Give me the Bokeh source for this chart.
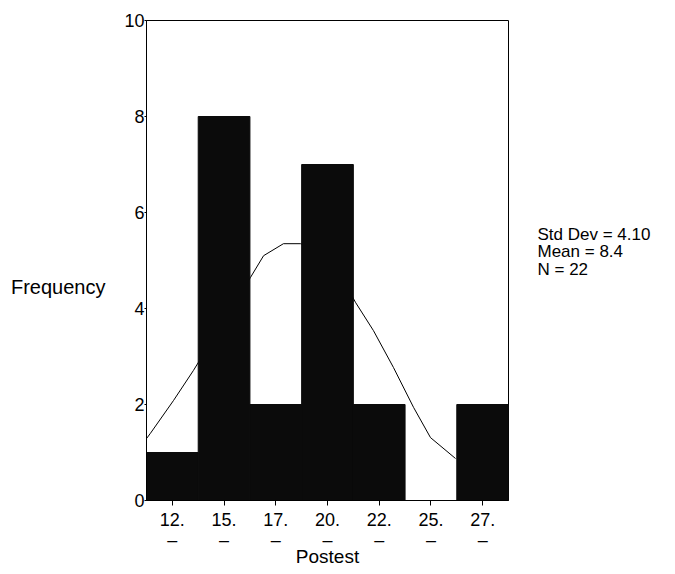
from bokeh.plotting import figure
from bokeh.models import Range1d, FixedTicker, LinearAxis
from bokeh.embed import file_html
from bokeh.resources import INLINE

# ---- data ----
bin_mid = [12.5, 15.0, 17.5, 20.0, 22.5, 25.0, 27.5]
frequency = [1, 8, 2, 7, 2, 0, 2]
bin_width = 2.5
tick_labels = ["12.", "15.", "17.", "20.", "22.", "25.", "27."]
y_ticks = [0, 2, 4, 6, 8, 10]

# normal curve
curve_x = [11.25, 11.44, 12.55, 13.52, 16.28, 16.91, 17.87, 18.69, 19.6, 20.5,
           21.35, 22.22, 23.19, 24.16, 24.98, 26.19]
curve_y = [1.29, 1.40, 2.08, 2.71, 4.65, 5.10, 5.35, 5.35, 5.25, 4.8,
           4.13, 3.54, 2.77, 1.94, 1.31, 0.875]

std_dev = "4.10"
mean = "8.4"
n = "22"

FONT = "Liberation Sans"

p = figure(width=675, height=574, output_backend="svg", toolbar_location=None,
           x_range=Range1d(11.25, 28.75), y_range=Range1d(0, 10),
           min_border_left=146, min_border_right=167, min_border_top=20,
           min_border_bottom=74)
p.background_fill_color = "white"
p.border_fill_color = "white"
p.outline_line_color = "black"
p.outline_line_width = 1
p.xgrid.visible = False
p.ygrid.visible = False

p.line(curve_x, curve_y, line_color="black", line_width=1)
p.vbar(x=bin_mid, top=frequency, width=bin_width, bottom=0,
       fill_color="#0b0b0b", line_color="#0b0b0b")

# x axis
p.xaxis.ticker = FixedTicker(ticks=bin_mid)
p.xaxis.major_label_overrides = {m: lab + "\n\u2013" for m, lab in zip(bin_mid, tick_labels)}
p.xaxis.major_label_text_font = FONT
p.xaxis.major_label_text_font_size = "18px"
p.xaxis.major_label_text_line_height = 1.0
p.xaxis.major_label_text_color = "black"
p.xaxis.major_tick_out = 5
p.xaxis.major_tick_in = 0
p.xaxis.minor_tick_out = 0
p.xaxis.minor_tick_in = 0
p.xaxis.major_label_standoff = 4
p.xaxis.axis_line_color = "black"
p.xaxis.major_tick_line_color = "black"
p.xaxis.axis_label = "Postest"
p.xaxis.axis_label_text_font = FONT
p.xaxis.axis_label_text_font_size = "19px"
p.xaxis.axis_label_text_font_style = "normal"
p.xaxis.axis_label_text_color = "black"
p.xaxis.axis_label_standoff = -7

# y axis
p.yaxis.ticker = FixedTicker(ticks=y_ticks)
p.yaxis.major_label_text_font = FONT
p.yaxis.major_label_text_font_size = "18px"
p.yaxis.major_label_text_color = "black"
p.yaxis.major_tick_out = 2
p.yaxis.major_tick_in = 0
p.yaxis.minor_tick_out = 0
p.yaxis.minor_tick_in = 0
p.yaxis.major_label_standoff = 0
p.yaxis.axis_line_color = "black"
p.yaxis.axis_label = "\u00a0\n\u00a0\nFrequency"
p.yaxis.axis_label_orientation = "horizontal"
p.yaxis.axis_label_text_font = FONT
p.yaxis.axis_label_text_font_size = "20px"
p.yaxis.axis_label_text_font_style = "normal"
p.yaxis.axis_label_text_color = "black"
p.yaxis.axis_label_standoff = 16

# statistics as a tick-less right axis title
stats_axis = LinearAxis(ticker=FixedTicker(ticks=[]))
stats_axis.axis_line_color = None
stats_axis.major_tick_line_color = None
stats_axis.minor_tick_line_color = None
stats_axis.major_label_text_font_size = "0px"
stats_axis.axis_label = "\n".join(["Std Dev = " + std_dev, "Mean = " + mean, "N = " + n, "\u00a0"])
stats_axis.axis_label_orientation = "horizontal"
stats_axis.axis_label_text_align = "left"
stats_axis.axis_label_text_font = FONT
stats_axis.axis_label_text_font_size = "17px"
stats_axis.axis_label_text_font_style = "normal"
stats_axis.axis_label_text_color = "black"
stats_axis.axis_label_text_line_height = 0.9
stats_axis.axis_label_standoff = 29
p.add_layout(stats_axis, "right")

open("out.html", "w").write(file_html(p, INLINE))
